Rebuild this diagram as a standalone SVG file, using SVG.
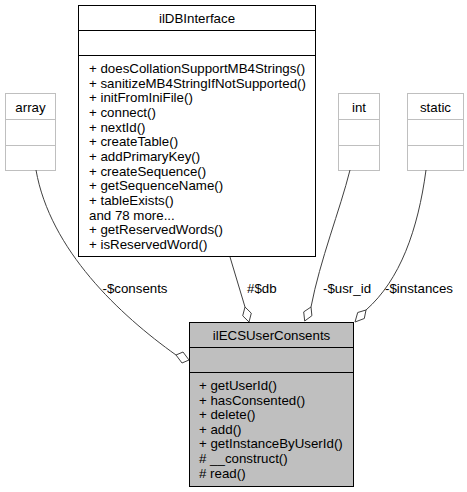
<svg xmlns="http://www.w3.org/2000/svg" width="467" height="492" viewBox="0 0 467 492">
<style>
text { font-family: "Liberation Sans", Arial, sans-serif; font-size: 13.3px; fill: #000; }
.c { text-anchor: middle; }
.gray rect, .gray line { stroke: #bfbfbf; stroke-width: 1; fill: #fff; }
.blk rect { stroke: #000; stroke-width: 1; fill: #fff; }
.blk line { stroke: #000; stroke-width: 1; }
.main rect { fill: #bfbfbf; }
.edge { fill: none; stroke: #404040; stroke-width: 1; }
.dia { fill: #fff; stroke: #404040; stroke-width: 1; }
</style>
<rect width="467" height="492" fill="#fff"/>
<g id="node-array" class="gray">
<rect x="5.5" y="93.5" width="50" height="77"/>
<line x1="5.5" y1="119.5" x2="55.5" y2="119.5"/>
<line x1="5.5" y1="145.5" x2="55.5" y2="145.5"/>
<text class="c" x="30.5" y="112">array</text>
</g>
<g id="node-ilDBInterface" class="blk">
<rect x="78.5" y="5.5" width="237" height="251"/>
<line x1="78.5" y1="30.5" x2="315.5" y2="30.5"/>
<line x1="78.5" y1="55.5" x2="315.5" y2="55.5"/>
<text class="c" x="197" y="23">ilDBInterface</text>
<text x="89" y="73">+ doesCollationSupportMB4Strings()</text>
<text x="89" y="87.7">+ sanitizeMB4StringIfNotSupported()</text>
<text x="89" y="102.3">+ initFromIniFile()</text>
<text x="89" y="117">+ connect()</text>
<text x="89" y="131.7">+ nextId()</text>
<text x="89" y="146.3">+ createTable()</text>
<text x="89" y="161">+ addPrimaryKey()</text>
<text x="89" y="175.7">+ createSequence()</text>
<text x="89" y="190.3">+ getSequenceName()</text>
<text x="89" y="205">+ tableExists()</text>
<text x="89" y="219.7">and 78 more...</text>
<text x="89" y="234.3">+ getReservedWords()</text>
<text x="89" y="249">+ isReservedWord()</text>
</g>
<g id="node-int" class="gray">
<rect x="338.5" y="93.5" width="41" height="77"/>
<line x1="338.5" y1="119.5" x2="379.5" y2="119.5"/>
<line x1="338.5" y1="145.5" x2="379.5" y2="145.5"/>
<text class="c" x="359" y="112">int</text>
</g>
<g id="node-static" class="gray">
<rect x="407.5" y="93.5" width="56" height="77"/>
<line x1="407.5" y1="119.5" x2="463.5" y2="119.5"/>
<line x1="407.5" y1="145.5" x2="463.5" y2="145.5"/>
<text class="c" x="435.5" y="112">static</text>
</g>
<g id="node-ilECSUserConsents" class="blk main">
<rect x="189.5" y="322.5" width="164" height="164"/>
<line x1="189.5" y1="347.5" x2="353.5" y2="347.5"/>
<line x1="189.5" y1="372.5" x2="353.5" y2="372.5"/>
<text class="c" x="271.5" y="340">ilECSUserConsents</text>
<text x="199" y="390">+ getUserId()</text>
<text x="199" y="404.6">+ hasConsented()</text>
<text x="199" y="419.2">+ delete()</text>
<text x="199" y="433.8">+ add()</text>
<text x="199" y="448.4">+ getInstanceByUserId()</text>
<text x="199" y="463">#  __construct()</text>
<text x="199" y="477.6"># read()</text>
</g>
<g id="connectors">
<path class="edge" d="M36,170 C50,250 120,315 176,355"/>
<polygon class="dia" points="176,355 183,352 189,360 182,363"/>
<text class="c" x="135" y="293">-$consents</text>
<path class="edge" d="M230,257 L245,307"/>
<polygon class="dia" points="245,307 251.3,313.2 249,322 242.7,315.8"/>
<text x="247" y="293">#$db</text>
<path class="edge" d="M350,170 C340,210 320,260 311,307"/>
<polygon class="dia" points="311,307 311.9,315.7 304.7,321 303.7,311.9"/>
<text x="323" y="293">-$usr_id</text>
<path class="edge" d="M426,170 C418,230 400,280 366,310"/>
<polygon class="dia" points="366,310 364.3,318.5 355,322 357.7,312.5"/>
<text x="385" y="293">-$instances</text>
</g>
</svg>
